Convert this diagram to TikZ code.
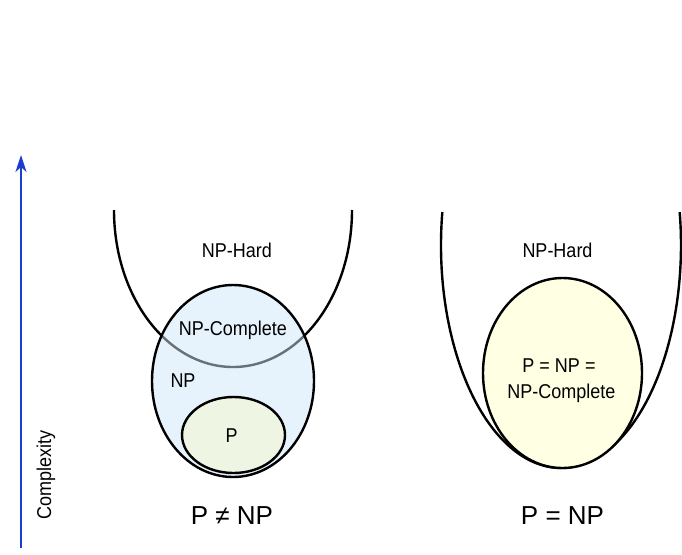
\documentclass[tikz,border=0pt]{standalone}
\usepackage{fontspec}
\setmainfont{Liberation Sans}
\newfontfamily\narrowfont[FakeStretch=0.9]{Liberation Sans}
\usetikzlibrary{arrows.meta}
\definecolor{npblue}{HTML}{E6F2FC}
\definecolor{pgreen}{HTML}{EEF5E3}
\definecolor{pyellow}{HTML}{FFFFE3}
\definecolor{greyline}{HTML}{687078}
\definecolor{axisblue}{HTML}{1C3CCC}
\begin{document}
\begin{tikzpicture}[x=1pt,y=-1pt,
  outline/.style={line width=2.4pt, draw=black},
  lbl/.style={font=\narrowfont\fontsize{20}{23}\selectfont, inner sep=0pt, anchor=base},
  big/.style={font=\fontsize{26}{30}\selectfont, inner sep=0pt, anchor=base}]
\useasboundingbox (0,0) rectangle (682,554);
% axis
\coordinate (axbot) at (21,548);
\coordinate (axtop) at (21,155);
\draw[line width=2.2pt, axisblue, -{Stealth[length=17pt,width=11pt,inset=5pt]}] (axbot) -- (axtop);
\node[lbl, rotate=90] (cx) at (51,475) {Complexity};
% left: NP-Hard U
\draw[outline] (233,210) ++(180:119 and 157) arc[start angle=180, end angle=0, x radius=119, y radius=157];
% NP ellipse
\fill[npblue] (233,381) ellipse[x radius=81, y radius=96];
\begin{scope}
  \clip (233,381) ellipse[x radius=81, y radius=96];
  \draw[line width=2.4pt, greyline] (233,210) ++(180:119 and 157) arc[start angle=180, end angle=0, x radius=119, y radius=157];
\end{scope}
\draw[outline] (233,381) ellipse[x radius=81, y radius=96];
% P ellipse
\draw[outline, fill=pgreen] (233.5,435) ellipse[x radius=51.5, y radius=38];
% right: NP-Hard U
\draw[outline] (561,245) ++(188.5:120 and 223) arc[start angle=188.5, end angle=-8.5, x radius=120, y radius=223];
\draw[outline, fill=pyellow] (562.5,373) ellipse[x radius=79.5, y radius=95];
% labels
\node[lbl] (nphL) at (237,257) {NP-Hard};
\node[lbl] (npcL) at (233,335) {NP-Complete};
\node[lbl] (npL) at (183,387) {NP};
\node[lbl] (pL) at (231.5,442.5) {P};
\node[lbl] (nphR) at (557.5,257.5) {NP-Hard};
\node[lbl] (eqR1) at (559,372) {P = NP =};
\node[lbl] (eqR2) at (561.5,398) {NP-Complete};
\node[big] (neq) at (232,524) {P ≠ NP};
\node[big] (eq) at (562.5,524) {P = NP};
\end{tikzpicture}
\end{document}
